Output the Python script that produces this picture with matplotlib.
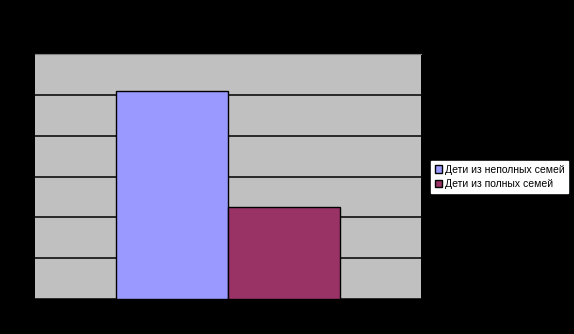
import matplotlib.pyplot as plt
import numpy as np

plt.rcParams['font.family'] = ['Liberation Sans', 'DejaVu Sans']

# Data (scale assumed 0..60)
series = ['Дети из неполных семей', 'Дети из полных семей']
values = [51, 22.5]
colors = ['#9999FF', '#993366']
y_ticks = np.arange(0, 61, 10)

fig = plt.figure(figsize=(5.74, 3.34), dpi=100, facecolor='black')
ax = fig.add_axes([35 / 574, 35 / 334, 386 / 574, 245 / 334])
ax.set_facecolor('#C0C0C0')

width = 0.29
offsets = [-width / 2, width / 2]
for name, val, col, off in zip(series, values, colors, offsets):
    ax.bar(off, val, width=width, color=col, edgecolor='black', linewidth=1,
           label=name, zorder=3)

ax.set_xlim(-0.5, 0.5)
ax.set_ylim(0, 60)
ax.set_yticks(y_ticks)
ax.yaxis.grid(True, color='black', linewidth=1.1, zorder=1)
ax.set_axisbelow(True)
ax.tick_params(length=0, labelleft=False, labelbottom=False)
ax.set_xticks([])

for side in ['left', 'bottom', 'right']:
    ax.spines[side].set_visible(False)
ax.spines['top'].set_color('#808080')

leg = fig.legend(loc='upper left', bbox_to_anchor=(431 / 574, 1 - 161 / 334),
                 frameon=True, fancybox=False, framealpha=1, fontsize=7.5,
                 handlelength=0.7, handleheight=0.7, handletextpad=0.3,
                 borderpad=0.35, labelspacing=0.45, borderaxespad=0)
leg.get_frame().set_facecolor('white')
leg.get_frame().set_edgecolor('white')

fig.savefig('out.png', dpi=100, facecolor='black')
